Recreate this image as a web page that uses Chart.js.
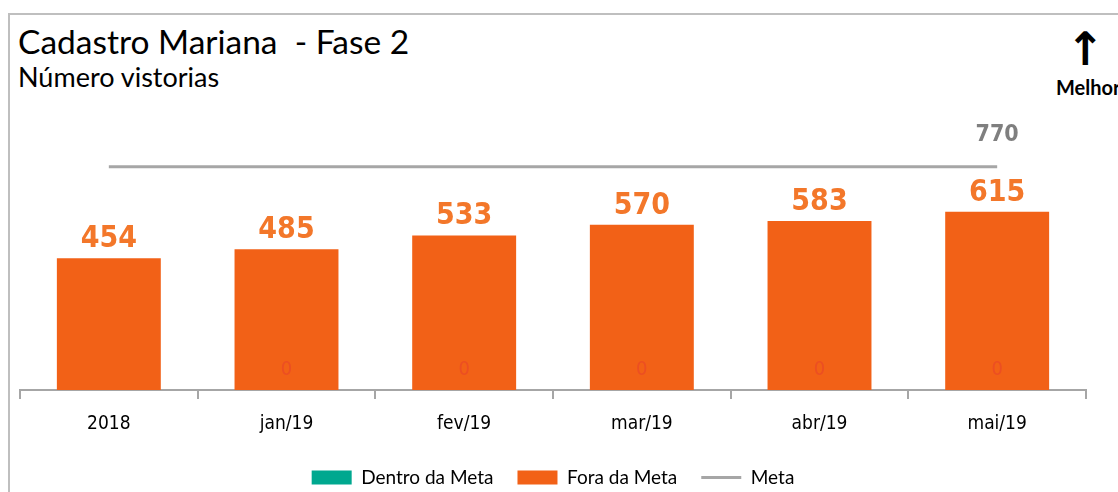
<!DOCTYPE html>
<html>
<head>
<meta charset="utf-8">
<script src="https://cdn.jsdelivr.net/npm/chart.js@4.4.1/dist/chart.umd.min.js"></script>
<style>
  html, body { margin: 0; padding: 0; background: #fff; overflow: hidden; }
  #wrap { position: relative; width: 1118px; height: 492px; overflow: hidden; }
  #frame { position: absolute; left: 8px; top: 13px; width: 1200px; height: 600px; border: 2px solid #BFBFBF; box-sizing: border-box; }
  .txt { position: absolute; white-space: nowrap; line-height: 1; color: #000; }
  #title { left: 18px; top: 21px; font: 33.5px Lato, sans-serif; }
  #subtitle { left: 18px; top: 60px; font: 27px Lato, sans-serif; }
  #arrow { left: 1066px; top: 22px; font: bold 46px "DejaVu Sans", sans-serif; }
  #better { left: 1056px; top: 75px; font: bold 20px Lato, sans-serif; }
  canvas { position: absolute; left: 0; top: 0; }
</style>
</head>
<body>
<div id="wrap">
  <div id="frame"></div>
  <div class="txt" id="title">Cadastro Mariana&nbsp; - Fase 2</div>
  <div class="txt" id="subtitle">Número vistorias</div>
  <div class="txt" id="arrow">↑</div>
  <div class="txt" id="better">Melhor</div>
  <canvas id="chart" width="1118" height="492"></canvas>
</div>
<script>
// data
const categories = ["2018", "jan/19", "fev/19", "mar/19", "abr/19", "mai/19"];
const dentroMeta = [null, 0, 0, 0, 0, 0];
const foraMeta = [454, 485, 533, 570, 583, 615];
const metaValues = [770, 770, 770, 770, 770, 770];

const labelFamily = '"DejaVu Sans Condensed", "DejaVu Sans", sans-serif';

// draws the value labels above bars / last point of the goal line
const valueLabels = {
  id: "valueLabels",
  afterDatasetsDraw(chart) {
    const ctx = chart.ctx;
    chart.data.datasets.forEach((ds, i) => {
      const meta = chart.getDatasetMeta(i);
      const opt = ds.valueLabel;
      if (!opt || meta.hidden) return;
      meta.data.forEach((el, j) => {
        const v = ds.data[j];
        if (v === null || v === undefined) return;
        if (opt.onlyLast && j !== ds.data.length - 1) return;
        ctx.save();
        ctx.font = opt.font;
        ctx.fillStyle = opt.color;
        ctx.textAlign = "center";
        ctx.textBaseline = "alphabetic";
        ctx.fillText(String(v), el.x, el.y - opt.gap);
        ctx.restore();
      });
    });
  }
};

const chart = new Chart(document.getElementById("chart"), {
  type: "bar",
  data: {
    labels: categories,
    datasets: [
      {
        label: "Dentro da Meta",
        data: dentroMeta,
        backgroundColor: "#00A88F",
        categoryPercentage: 0.585,
        barPercentage: 1,
        valueLabel: { font: "20px " + labelFamily, color: "#EC4F22", gap: 15 }
      },
      {
        label: "Fora da Meta",
        data: foraMeta,
        backgroundColor: "#F26117",
        categoryPercentage: 0.585,
        barPercentage: 1,
        valueLabel: { font: "bold 30px " + labelFamily, color: "#F3772A", gap: 11 }
      },
      {
        type: "line",
        label: "Meta",
        data: metaValues,
        borderColor: "#A6A6A6",
        backgroundColor: "#A6A6A6",
        borderWidth: 3,
        pointRadius: 0,
        stack: "meta",
        valueLabel: { font: "bold 23px " + labelFamily, color: "#7F7F7F", gap: 26, onlyLast: true }
      }
    ]
  },
  options: {
    responsive: false,
    animation: false,
    layout: { padding: { left: 20, right: 32, top: 100, bottom: -5 } },
    plugins: {
      title: { display: false },
      tooltip: { enabled: false },
      legend: {
        position: "bottom",
        labels: {
          usePointStyle: true,
          pointStyleWidth: 40,
          boxHeight: 14,
          padding: 24,
          color: "#000",
          font: { family: "Lato", size: 19 },
          generateLabels(chart) {
            const items = Chart.defaults.plugins.legend.labels.generateLabels(chart);
            items.forEach((it) => {
              it.pointStyle = it.datasetIndex === 2 ? "line" : "rect";
            });
            return items;
          }
        }
      }
    },
    scales: {
      x: {
        stacked: true,
        grid: { drawOnChartArea: false, color: "#A6A6A6", lineWidth: 2, tickLength: 9 },
        border: { color: "#A6A6A6", width: 2 },
        ticks: { color: "#000", padding: 14, font: { family: labelFamily, size: 19 } },
        afterFit(axis) {
          axis.height = 54;
        }
      },
      y: { stacked: true, display: false, min: 0, max: 1000 }
    }
  },
  plugins: [valueLabels]
});
</script>
</body>
</html>
